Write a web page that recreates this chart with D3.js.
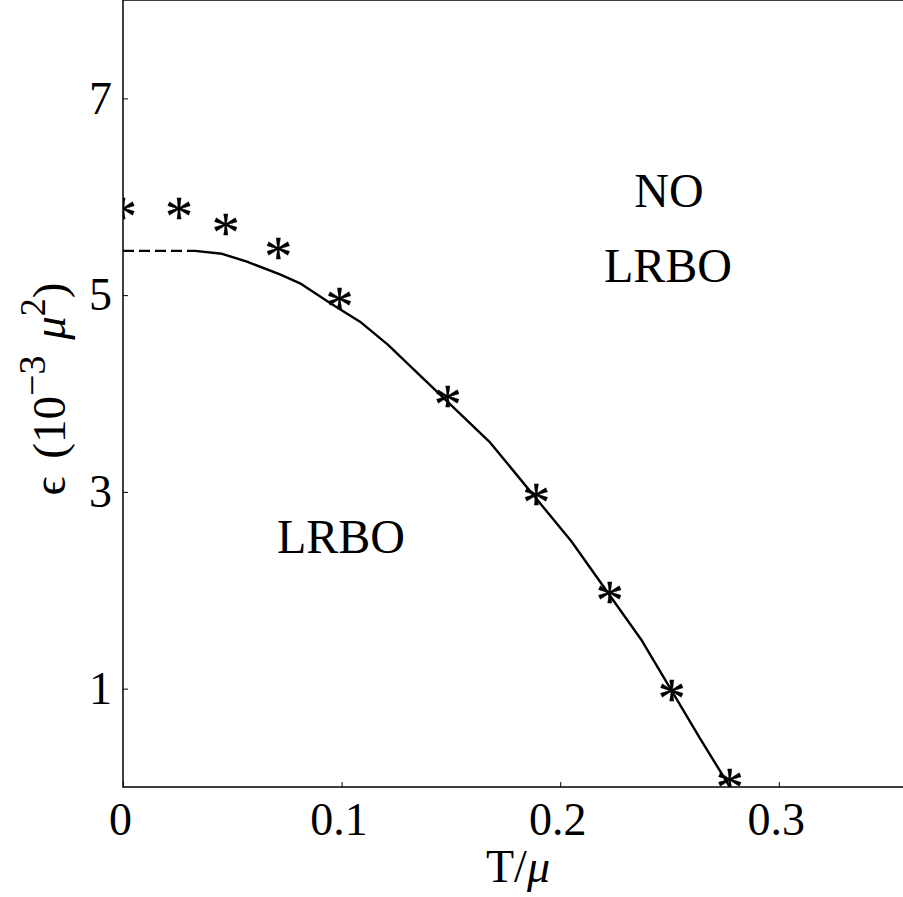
<!DOCTYPE html>
<html>
<head>
<meta charset="utf-8">
<script src="https://cdn.jsdelivr.net/npm/d3@7"></script>
<style>
  body { margin: 0; background: #fff; }
  svg { display: block; font-family: "Liberation Serif", "Times New Roman", serif; }
</style>
</head>
<body>
<div id="chart"></div>
<script>
// simulation points (stars)
const starT = [0, 0.0256, 0.047, 0.071, 0.099, 0.1486, 0.189, 0.2227, 0.251, 0.2776];
const starEps = [5.86, 5.86, 5.70, 5.46, 4.95, 3.95, 2.96, 1.96, 0.96, 0.06];

// analytic curve (solid), dashed extension to T = 0
const curveT = [0.0329, 0.0453, 0.0567, 0.0718, 0.081, 0.0947, 0.1084, 0.121, 0.168, 0.205, 0.237, 0.2638, 0.2776];
const curveEps = [5.45, 5.42, 5.34, 5.21, 5.12, 4.92, 4.73, 4.5, 3.5, 2.5, 1.5, 0.5, 0.0];
const dashT = [0, 0.0329];
const dashEps = [5.45, 5.45];

const xTicks = [0, 0.1, 0.2, 0.3];
const yTicks = [1, 3, 5, 7];

const width = 903, height = 897;
const plotLeft = 123, plotTop = 0, size = 787;

const svg = d3.select("#chart").append("svg")
  .attr("width", width)
  .attr("height", height);

const x = d3.scaleLinear().domain([0, 0.36]).range([plotLeft, plotLeft + size]);
const y = d3.scaleLinear().domain([0, 8]).range([plotTop + size, plotTop]);

svg.append("defs").append("clipPath").attr("id", "clip")
  .append("rect")
  .attr("x", plotLeft).attr("y", plotTop)
  .attr("width", size).attr("height", size);

// axes, ticks pointing inwards
const xAxis = svg.append("g")
  .attr("transform", `translate(0,${plotTop + size})`)
  .call(d3.axisBottom(x).tickValues(xTicks).tickSize(-5).tickPadding(15)
    .tickFormat(d => d === 0 ? "0" : d3.format(".1f")(d)));

const yAxis = svg.append("g")
  .attr("transform", `translate(${plotLeft},0)`)
  .call(d3.axisLeft(y).tickValues(yTicks).tickSize(-5).tickPadding(11));

[xAxis, yAxis].forEach(g => {
  g.select(".domain").remove();
  g.selectAll(".tick line").attr("stroke", "#000").attr("stroke-width", 1);
  g.selectAll(".tick text")
    .attr("fill", "#000")
    .style("font-family", "'Liberation Serif', serif")
    .style("font-size", "46px");
});
xAxis.selectAll(".tick text").attr("dx", -3);

// frame
svg.append("rect")
  .attr("x", plotLeft).attr("y", plotTop)
  .attr("width", size).attr("height", size)
  .attr("fill", "none")
  .attr("stroke", "#000")
  .attr("stroke-width", 1.5);

const plot = svg.append("g").attr("clip-path", "url(#clip)");

const line = d3.line().x(d => x(d[0])).y(d => y(d[1]));

plot.append("path")
  .datum(dashT.map((t, i) => [t, dashEps[i]]))
  .attr("d", line)
  .attr("fill", "none")
  .attr("stroke", "#000")
  .attr("stroke-width", 2.2)
  .attr("stroke-dasharray", "11,5");

plot.append("path")
  .datum(curveT.map((t, i) => [t, curveEps[i]]))
  .attr("d", line)
  .attr("fill", "none")
  .attr("stroke", "#000")
  .attr("stroke-width", 2.4)
  .attr("stroke-linejoin", "round");

plot.selectAll("text.star")
  .data(starT.map((t, i) => [t, starEps[i]]))
  .enter().append("text")
  .attr("class", "star")
  .attr("x", d => x(d[0]))
  .attr("y", d => y(d[1]))
  .attr("dy", "0.46em")
  .attr("text-anchor", "middle")
  .attr("stroke", "#000")
  .attr("stroke-width", 0.3)
  .style("font-size", "56px")
  .text("*");

// region labels
const labels = svg.append("g")
  .style("font-size", "48px")
  .attr("text-anchor", "middle");
labels.append("text").attr("x", 669).attr("y", 207).text("NO");
labels.append("text").attr("x", 668).attr("y", 282).text("LRBO");
labels.append("text").attr("x", 341).attr("y", 553).text("LRBO");

// axis titles
const xt = svg.append("text")
  .attr("x", 518).attr("y", 882)
  .attr("text-anchor", "middle")
  .style("font-size", "46px");
xt.append("tspan").text("T/");
xt.append("tspan").style("font-style", "italic").text("μ");

const yt = svg.append("text")
  .attr("transform", `translate(65,389) rotate(-90)`)
  .attr("text-anchor", "middle")
  .style("font-size", "47px");
yt.append("tspan").text("ϵ");
yt.append("tspan").attr("dx", 6).text(" (10");
yt.append("tspan").attr("dy", -20).style("font-size", "38px").text("−3");
yt.append("tspan").attr("dy", 20).attr("dx", 4).text(" ");
yt.append("tspan").style("font-style", "italic").text("μ");
yt.append("tspan").attr("dy", -20).style("font-size", "36px").text("2");
yt.append("tspan").attr("dy", 20).text(")");
</script>
</body>
</html>
